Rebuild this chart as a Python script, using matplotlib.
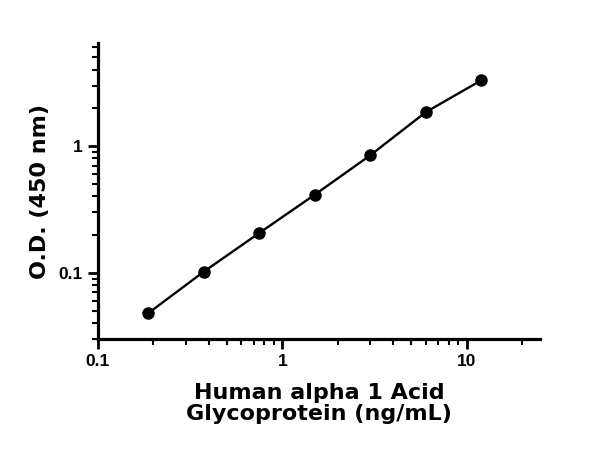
import numpy as np
import matplotlib.pyplot as plt
from matplotlib import font_manager
from matplotlib.ticker import LogLocator, FixedLocator, NullFormatter

# standard curve values
conc = [0.1875, 0.375, 0.75, 1.5, 3, 6, 12]
od = [0.048, 0.102, 0.206, 0.413, 0.845, 1.85, 3.3]

x_ticks = [0.1, 1, 10]
x_ticklabels = ['0.1', '1', '10']
y_ticks = [0.1, 1]
y_ticklabels = ['0.1', '1']

# arial-like bold for the tick numbers (avoid the narrow variant)
tick_font = None
for f in font_manager.findSystemFonts():
    if f.endswith('LiberationSans-Bold.ttf'):
        tick_font = font_manager.FontProperties(fname=f, size=12.5)
        break
if tick_font is None:
    tick_font = font_manager.FontProperties(family='Liberation Sans', weight='bold', size=12.5)

fig = plt.figure(figsize=(6, 4.55), dpi=100)
ax = fig.add_axes([0.1633, 0.2549, 0.7367, 0.6506])

ax.plot(conc, od, color='black', lw=1.7, marker='o', ms=8, mfc='black', mec='black')

ax.set_xscale('log')
ax.set_yscale('log')
ax.set_xlim(0.1, 25)
ax.set_ylim(0.03, 6.5)

ax.xaxis.set_major_locator(FixedLocator(x_ticks))
ax.set_xticklabels(x_ticklabels)
ax.yaxis.set_major_locator(FixedLocator(y_ticks))
ax.set_yticklabels(y_ticklabels)
ax.xaxis.set_minor_locator(LogLocator(base=10, subs=np.arange(2, 10)))
ax.yaxis.set_minor_locator(LogLocator(base=10, subs=np.arange(2, 10)))
ax.xaxis.set_minor_formatter(NullFormatter())
ax.yaxis.set_minor_formatter(NullFormatter())

for s in ['top', 'right']:
    ax.spines[s].set_visible(False)
for s in ['left', 'bottom']:
    ax.spines[s].set_linewidth(2.3)

ax.tick_params(which='major', length=7, width=2, direction='out', pad=4)
ax.tick_params(which='minor', length=4, width=1.5, direction='out')
for lab in ax.get_xticklabels() + ax.get_yticklabels():
    lab.set_fontproperties(tick_font)

ax.set_xlabel('Human alpha 1 Acid\nGlycoprotein (ng/mL)', fontsize=16,
              fontweight='bold', fontfamily='DejaVu Sans', labelpad=10, linespacing=1.05)
ax.set_ylabel('O.D. (450 nm)', fontsize=16, fontweight='bold',
              fontfamily='DejaVu Sans', labelpad=6)

fig.savefig('out.png', dpi=100)
